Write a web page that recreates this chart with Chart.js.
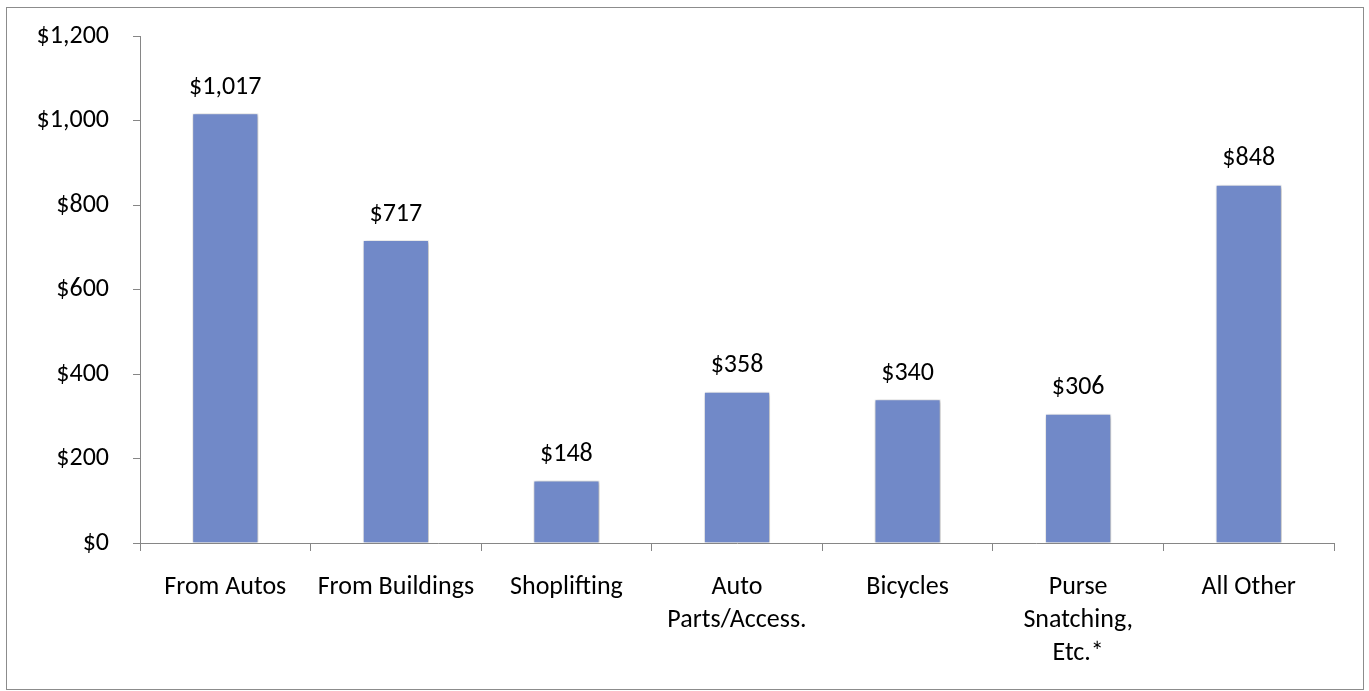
<!DOCTYPE html>
<html>
<head>
<meta charset="utf-8">
<script src="https://cdn.jsdelivr.net/npm/chart.js@4"></script>
<style>
  html, body { margin: 0; padding: 0; background: #fff; }
  #wrap { width: 1369px; height: 691px; }
</style>
</head>
<body>
<div id="wrap"><canvas id="loss-chart" width="1369" height="691"></canvas></div>
<script>
const categories = [
  'From Autos',
  'From Buildings',
  'Shoplifting',
  ['Auto', 'Parts/Access.'],
  'Bicycles',
  ['Purse', 'Snatching,', 'Etc.*'],
  'All Other'
];
const avgLoss = [1017, 717, 148, 358, 340, 306, 848];
const yTicks = [0, 200, 400, 600, 800, 1000, 1200];

const FONT = 'Calibri, Carlito, Lato, sans-serif';
const FONT_SIZE = 26;
const AXIS = '#868686';

function money(v) {
  return '$' + v.toLocaleString('en-US');
}

// outer frame around the whole picture
const framePlugin = {
  id: 'frame',
  afterDraw(chart) {
    const ctx = chart.ctx;
    ctx.save();
    ctx.strokeStyle = '#8c8c8c';
    ctx.lineWidth = 1;
    ctx.strokeRect(6.5, 7.5, 1357, 682);
    ctx.restore();
  }
};

// soft shadow under the bars
const shadowPlugin = {
  id: 'barShadow',
  beforeDatasetsDraw(chart) {
    const ctx = chart.ctx;
    ctx.save();
    ctx.shadowColor = 'rgba(0,0,0,0.35)';
    ctx.shadowBlur = 4;
    ctx.shadowOffsetX = 1;
    ctx.shadowOffsetY = 1;
  },
  afterDatasetsDraw(chart) {
    chart.ctx.restore();
  }
};

// value labels above each bar
const valueLabels = {
  id: 'valueLabels',
  afterDatasetsDraw(chart) {
    const ctx = chart.ctx;
    const meta = chart.getDatasetMeta(0);
    ctx.save();
    ctx.font = FONT_SIZE + 'px ' + FONT;
    ctx.fillStyle = '#000';
    ctx.textAlign = 'center';
    ctx.textBaseline = 'middle';
    meta.data.forEach((bar, i) => {
      ctx.fillText(money(avgLoss[i]), bar.x, bar.y - 26);
    });
    ctx.restore();
  }
};

const config = {
  type: 'bar',
  data: {
    labels: categories,
    datasets: [{
      data: avgLoss,
      backgroundColor: '#7189c8',
      borderColor: 'rgba(255,255,255,0.9)',
      borderWidth: 1,
      categoryPercentage: 0.4,
      barPercentage: 0.97
    }]
  },
  options: {
    responsive: false,
    animation: false,
    events: [],
    layout: { padding: { left: 0, right: 35, top: 36, bottom: 0 } },
    plugins: {
      legend: { display: false },
      title: { display: false },
      tooltip: { enabled: false }
    },
    scales: {
      x: {
        offset: true,
        grid: {
          offset: true,
          drawOnChartArea: false,
          drawTicks: true,
          tickLength: 8,
          color: AXIS
        },
        border: { color: AXIS, width: 1 },
        ticks: {
          color: '#000',
          font: { family: FONT, size: FONT_SIZE, lineHeight: 1.27 },
          padding: 20,
          maxRotation: 0,
          autoSkip: false
        },
        afterFit(scale) {
          scale.height = 691 - 543;
          scale.paddingLeft = 0;
          scale.paddingRight = 0;
        }
      },
      y: {
        min: 0,
        max: 1200,
        afterBuildTicks(scale) {
          scale.ticks = yTicks.map(v => ({ value: v }));
        },
        grid: {
          drawOnChartArea: false,
          drawTicks: true,
          tickLength: 7,
          color: AXIS
        },
        border: { color: AXIS, width: 1 },
        ticks: {
          color: '#000',
          font: { family: FONT, size: FONT_SIZE },
          padding: 24,
          callback: v => money(v)
        },
        afterFit(scale) {
          scale.width = 140;
          scale.paddingTop = 0;
          scale.paddingBottom = 0;
        }
      }
    }
  },
  plugins: [shadowPlugin, valueLabels, framePlugin]
};

const lossChart = new Chart(document.getElementById('loss-chart'), config);
</script>
</body>
</html>
